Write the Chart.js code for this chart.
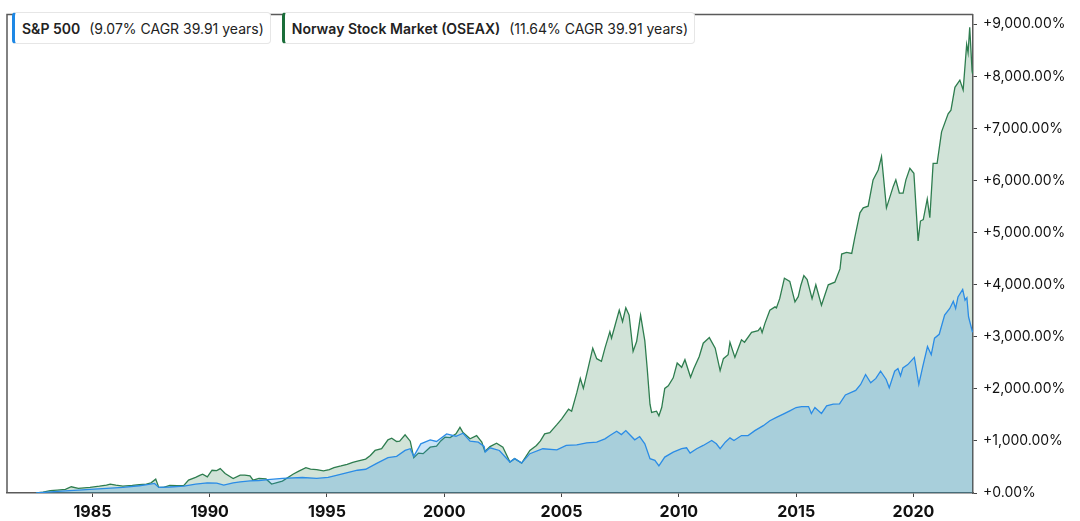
<!DOCTYPE html>
<html>
<head>
<meta charset="utf-8">
<script src="https://cdn.jsdelivr.net/npm/chart.js@4.4.1/dist/chart.umd.min.js"></script>
<style>
  html, body { margin: 0; padding: 0; background: #fff; }
  #wrap { position: relative; width: 1080px; height: 521px; }
  #legend { position: absolute; left: 12px; top: 12px; display: flex; gap: 11px; font-family: Inter, "Noto Sans", sans-serif; font-size: 14px; color: #222; }
  .item { display: flex; align-items: center; height: 30px; padding: 0 6px 0 7px; background: #fff; border: 1px solid #e6e6e6; border-left: 3px solid; border-radius: 4px; white-space: pre; }
  .item b { font-weight: 600; margin-right: 9px; }
</style>
</head>
<body>
<div id="wrap">
  <canvas id="glapharea" width="1080" height="521"></canvas>
  <div id="legend">
    <div class="item" style="border-left-color:#1e88e5"><b>S&amp;P 500</b><span>(9.07% CAGR 39.91 years)</span></div>
    <div class="item" style="border-left-color:#1b6e3a"><b>Norway Stock Market (OSEAX)</b><span>(11.64% CAGR 39.91 years)</span></div>
  </div>
</div>
<script>
// S&P 500 total return, % gain since start
var spxYears = [1982.6, 1983.2, 1983.85, 1984.4, 1984.9, 1985.6, 1986.3, 1987.0, 1987.4, 1987.65, 1987.83, 1988.3, 1988.9, 1989.4, 1989.9, 1990.3, 1990.6, 1991.0, 1991.3, 1991.72,
  1992.1, 1992.6, 1993.1, 1993.95, 1994.56, 1995.05, 1995.4, 1995.7, 1996.3, 1996.65, 1997.1, 1997.6, 1997.97, 1998.33, 1998.55, 1998.7, 1999.0, 1999.4, 1999.67, 2000.1,
  2000.5, 2000.8, 2001.1, 2001.45, 2001.7, 2001.75, 2001.95, 2002.35, 2002.8, 2003.0, 2003.3, 2003.65, 2004.2, 2004.8, 2005.2, 2005.65, 2006.07, 2006.5, 2006.85, 2007.06,
  2007.35, 2007.55, 2007.74, 2007.9, 2008.12, 2008.33, 2008.55, 2008.77, 2008.98, 2009.15, 2009.4, 2009.76, 2010.12, 2010.33, 2010.48, 2010.76, 2011.04, 2011.4, 2011.6, 2011.76,
  2011.98, 2012.18, 2012.35, 2012.67, 2012.95, 2013.24, 2013.6, 2013.88, 2014.16, 2014.45, 2014.73, 2015.0, 2015.23, 2015.53, 2015.65, 2015.8, 2016.08, 2016.3, 2016.58, 2016.85,
  2017.1, 2017.54, 2017.75, 2017.96, 2018.18, 2018.4, 2018.6, 2018.84, 2018.97, 2019.2, 2019.34, 2019.45, 2019.55, 2019.76, 2020.04, 2020.23, 2020.4, 2020.6, 2020.76, 2020.9,
  2021.1, 2021.33, 2021.55, 2021.7, 2021.8, 2021.9, 2022.1, 2022.2, 2022.28, 2022.35, 2022.52];
var spxValues = [0, 20, 40, 55, 70, 90, 108, 139, 165, 184, 108, 115, 133, 170, 196, 190, 152, 195, 215, 232,
  240, 260, 279, 298, 279, 298, 340, 374, 437, 456, 564, 679, 703, 817, 850, 703, 944, 1021, 989, 1135,
  1090, 1147, 995, 976, 893, 786, 868, 817, 595, 660, 576, 755, 850, 830, 913, 925, 963, 976, 1040, 1103,
  1185, 1122, 1198, 1122, 1021, 1084, 944, 660, 627, 519, 690, 786, 850, 868, 766, 850, 913, 1008, 944, 850,
  976, 1059, 1008, 1103, 1103, 1198, 1293, 1388, 1451, 1515, 1578, 1641, 1660, 1660, 1527, 1641, 1527, 1673, 1705, 1710,
  1882, 1971, 2085, 2275, 2116, 2200, 2338, 2180, 2021, 2338, 2389, 2250, 2401, 2465, 2605, 2085, 2433, 2813, 2655, 2972,
  3048, 3416, 3543, 3682, 3543, 3764, 3910, 3701, 3750, 3384, 3086];

// Oslo Børs all-share (OSEAX), % gain since start
var oseaxYears = [1982.6, 1982.9, 1983.2, 1983.5, 1983.85, 1984.1, 1984.4, 1984.9, 1985.3, 1985.6, 1985.76, 1986.0, 1986.3, 1986.7, 1987.0, 1987.3, 1987.5, 1987.7, 1987.83, 1988.04,
  1988.3, 1988.6, 1988.9, 1989.1, 1989.4, 1989.6, 1989.7, 1989.9, 1990.1, 1990.3, 1990.45, 1990.66, 1991.0, 1991.3, 1991.5, 1991.72, 1991.85, 1992.1, 1992.4, 1992.64,
  1993.1, 1993.55, 1993.8, 1994.1, 1994.3, 1994.56, 1994.85, 1995.1, 1995.3, 1995.6, 1995.86, 1996.1, 1996.3, 1996.65, 1996.85, 1997.05, 1997.33, 1997.6, 1997.76, 1997.97,
  1998.1, 1998.33, 1998.55, 1998.7, 1998.9, 1999.1, 1999.4, 1999.67, 1999.85, 2000.03, 2000.25, 2000.5, 2000.67, 2000.8, 2001.1, 2001.38, 2001.6, 2001.73, 2001.95, 2002.23,
  2002.5, 2002.8, 2003.0, 2003.3, 2003.65, 2003.93, 2004.1, 2004.28, 2004.5, 2004.8, 2005.0, 2005.3, 2005.43, 2005.65, 2005.8, 2005.93, 2006.14, 2006.33, 2006.5, 2006.7,
  2006.85, 2007.06, 2007.13, 2007.3, 2007.46, 2007.6, 2007.74, 2007.88, 2008.05, 2008.2, 2008.37, 2008.55, 2008.65, 2008.77, 2008.84, 2009.05, 2009.15, 2009.27, 2009.4, 2009.55,
  2009.76, 2009.93, 2010.12, 2010.26, 2010.5, 2010.64, 2010.87, 2011.04, 2011.3, 2011.55, 2011.76, 2011.9, 2012.1, 2012.18, 2012.39, 2012.67, 2012.8, 2013.1, 2013.38, 2013.48,
  2013.55, 2013.67, 2013.88, 2014.1, 2014.16, 2014.3, 2014.5, 2014.73, 2014.95, 2015.09, 2015.2, 2015.33, 2015.47, 2015.68, 2015.84, 2016.08, 2016.37, 2016.65, 2016.87, 2016.94,
  2017.15, 2017.37, 2017.5, 2017.72, 2017.86, 2018.07, 2018.28, 2018.5, 2018.64, 2018.85, 2019.14, 2019.25, 2019.4, 2019.56, 2019.68, 2019.85, 2020.02, 2020.2, 2020.3, 2020.42,
  2020.59, 2020.7, 2020.84, 2021.01, 2021.2, 2021.48, 2021.6, 2021.77, 2021.98, 2022.12, 2022.27, 2022.33, 2022.4, 2022.5, 2022.52];
var oseaxValues = [0, 15, 44, 55, 70, 120, 90, 108, 130, 152, 171, 150, 133, 145, 158, 170, 196, 266, 108, 108,
  146, 140, 146, 247, 300, 342, 361, 310, 437, 430, 469, 375, 279, 342, 345, 330, 247, 279, 270, 171,
  228, 361, 420, 488, 460, 450, 424, 450, 488, 520, 551, 590, 614, 652, 720, 817, 850, 1021, 1052, 989,
  995, 1116, 995, 679, 766, 755, 880, 900, 1000, 1071, 1065, 1135, 1261, 1160, 1040, 1103, 976, 798, 890, 957,
  880, 595, 660, 576, 817, 913, 1000, 1135, 1160, 1312, 1420, 1610, 1570, 1926, 2199, 2009, 2414, 2781, 2579, 2528,
  2781, 3099, 2972, 3250, 3511, 3289, 3555, 3416, 2718, 2908, 3416, 2921, 2401, 1705, 1546, 1570, 1482, 1641, 2009, 2060,
  2212, 2497, 2414, 2560, 2224, 2389, 2623, 2876, 2984, 2781, 2351, 2579, 2655, 2895, 2605, 2941, 2895, 3086, 3118, 3175,
  3080, 3257, 3511, 3574, 3555, 3732, 4125, 4062, 3669, 3770, 3985, 4176, 4100, 3732, 3998, 3606, 3998, 4049, 4303, 4588,
  4620, 4600, 4905, 5380, 5475, 5507, 6013, 6203, 6458, 5475, 5887, 6013, 5760, 5760, 6013, 6235, 6140, 4842, 5222, 5250,
  5646, 5285, 6330, 6330, 6934, 7282, 7350, 7789, 7928, 7738, 8612, 8454, 8941, 8105, 8050];

var xTickYears = [1985, 1990, 1995, 2000, 2005, 2010, 2015, 2020];
var yTickValues = [0, 1000, 2000, 3000, 4000, 5000, 6000, 7000, 8000, 9000];

function toPoints(years, values) {
    var hairetu = [];
    for (var i = 0; i < years.length; i++) {
        hairetu.push({ x: years[i], y: values[i] });
    }
    return hairetu;
}

function asTicks(list) {
    return list.map(function(v) { return { value: v }; });
}

// frame around the plot area (top and left sides)
var frame = {
    id: 'frame',
    afterDraw: function(chart) {
        var a = chart.chartArea, c = chart.ctx;
        c.save();
        c.strokeStyle = '#5a5a5a';
        c.lineWidth = 1.5;
        c.beginPath();
        c.moveTo(a.left, a.bottom);
        c.lineTo(a.left, a.top);
        c.lineTo(a.right, a.top);
        c.stroke();
        c.restore();
    }
};

function loadGlaph() {
    var glapharea = document.getElementById("glapharea").getContext('2d');
    new Chart(glapharea, {
        type: 'line',
        data: {
            datasets: [
              {
                  label: "S&P 500",
                  borderColor: "#2b8ce6",
                  backgroundColor: "rgba(45,146,226,0.25)",
                  borderWidth: 1.3,
                  fill: 'origin',
                  data: toPoints(spxYears, spxValues)
              }, {
                  label: "Norway Stock Market (OSEAX)",
                  borderColor: "#2e7d4f",
                  backgroundColor: "rgba(40,125,70,0.21)",
                  borderWidth: 1.3,
                  fill: 'origin',
                  data: toPoints(oseaxYears, oseaxValues)
              }
            ]
        },
        options: {
            responsive: false,
            animation: false,
            events: [],
            layout: { padding: { left: 7, top: 7, right: 0, bottom: 0 } },
            elements: {
                line: { tension: 0 },
                point: { radius: 0 }
            },
            plugins: { legend: { display: false }, tooltip: { enabled: false } },
            scales: {
                x: {
                    type: 'linear',
                    min: 1981.36,
                    max: 2022.54,
                    afterFit: function(s) { s.height = 28; },
                    afterBuildTicks: function(s) { s.ticks = asTicks(xTickYears); },
                    grid: { display: true, drawOnChartArea: false, drawTicks: true, tickLength: 4, color: '#444' },
                    border: { display: true, color: '#5a5a5a', width: 1.5 },
                    ticks: {
                        padding: 6,
                        color: '#111',
                        font: { family: 'Inter', size: 16, weight: 'bold' },
                        maxRotation: 0,
                        callback: function(v) { return String(v); }
                    }
                },
                y: {
                    position: 'right',
                    min: 0,
                    max: 9190,
                    afterFit: function(s) { s.width = 107; },
                    afterBuildTicks: function(s) { s.ticks = asTicks(yTickValues); },
                    grid: { display: true, drawOnChartArea: false, drawTicks: true, tickLength: 4, color: '#444' },
                    border: { display: true, color: '#5a5a5a', width: 1.5 },
                    ticks: {
                        padding: 6,
                        color: '#111',
                        font: { family: 'Inter', size: 14 },
                        callback: function(v) {
                            return '+' + v.toLocaleString('en-US', { minimumFractionDigits: 2, maximumFractionDigits: 2 }) + '%';
                        }
                    }
                }
            }
        },
        plugins: [frame]
    });
}

loadGlaph();
</script>
</body>
</html>
